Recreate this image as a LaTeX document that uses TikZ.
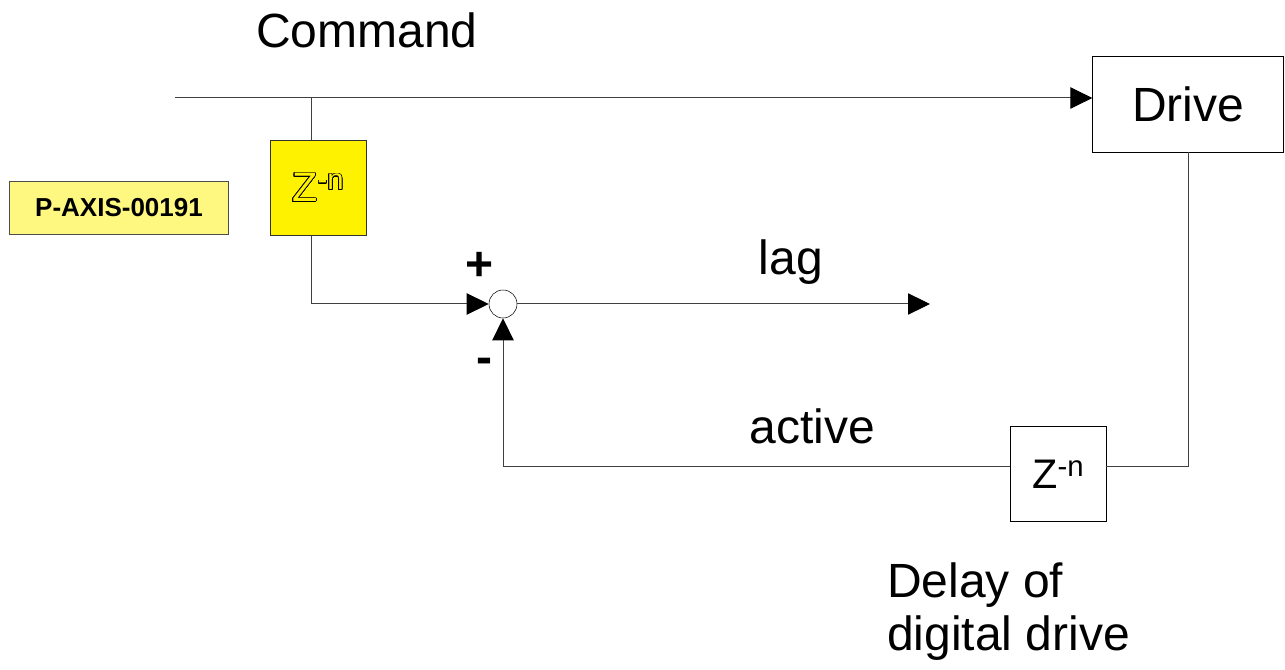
\documentclass[tikz,border=0pt]{standalone}
\usepackage{fontspec}
\setmainfont{Liberation Sans}
\usepackage[copies]{contour}
\usepackage{tikz}
\usetikzlibrary{arrows.meta,positioning}
\contourlength{0.5pt}
\contournumber{24}
\tikzset{
    %Define standard arrow tip
    >={Triangle[length=16.5pt,width=16pt,color=black,fill=black]},
    %Define style for boxes
    blockbox/.style={
           rectangle,
           draw=black, thin,
           fill=white,
           inner sep=0pt,
           minimum width=72pt,
           minimum height=71pt,
           font=\fontsize{31}{36}\selectfont},
    delaybox/.style={
           blockbox,
           fill=yellow,
           draw=black!80},
    drivebox/.style={
           blockbox,
           minimum width=143pt,
           minimum height=72pt,
           font=\fontsize{36}{42}\selectfont},
    tagbox/.style={
           rectangle,
           draw=black!70, thin,
           fill=yellow!50,
           inner sep=0pt,
           minimum width=164pt,
           minimum height=40pt,
           font=\fontsize{19.5}{23}\selectfont\bfseries},
    sumnode/.style={
           circle,
           draw=black, thin,
           fill=white,
           inner sep=0pt,
           minimum size=21pt},
    txt/.style={
           font=\fontsize{36}{40}\selectfont},
    sign/.style={
           font=\fontsize{36}{40}\selectfont\bfseries},
    % Define line style
    pil/.style={
           draw=black!75,
           line width=0.75pt}
}

\begin{document}
\begin{tikzpicture}[x=0.75pt,y=-0.75pt]
\useasboundingbox (0,0) rectangle (1285,670);
 %nodes
\node[drivebox](drive) at (1188,104){Drive};
\node[delaybox](zcmd) at (318,188){\color{yellow}\contour{black}{Z}\raisebox{9pt}{\fontsize{22}{24}\selectfont\contour{black}{-n}}};
\node[blockbox](zdrv) at (1058,474){Z\raisebox{9pt}{\fontsize{22}{24}\selectfont -n}};
\node[sumnode](sum) at (503,304){};
\node[tagbox](tag) at (119,208){P-AXIS-00191};
\node[txt](cmd) at (367,30){Command};
\node[txt](lag) at (791,262){lag};
\node[txt](act) at (812,426){active};
\node[txt, anchor=north west, align=left, inner sep=0pt, font=\fontsize{36}{40}\selectfont](dly) at (887,562){Delay of\\digital drive};
\node[sign](plus) at (480,266){+};
\node[sign](minus) at (484,366){-};
 %helper points
\coordinate (start) at (175,98);
\coordinate (tap) at (311,98);
\coordinate (lagend) at (930,304);
\coordinate (fbin) at (1106,466);
\coordinate (fbout) at (1010,466);
 %connectors
\draw[pil,->] (start) -- (start -| drive.west);
\draw[pil] (tap) -- (tap |- zcmd.north);
\draw[pil,->] (tap |- zcmd.south) |- (sum.west);
\draw[pil,->] (sum.east) -- (lagend);
\draw[pil] (drive.south) |- (fbin);
\draw[pil,->] (fbout) -| (sum.south);
\end{tikzpicture}
\end{document}
